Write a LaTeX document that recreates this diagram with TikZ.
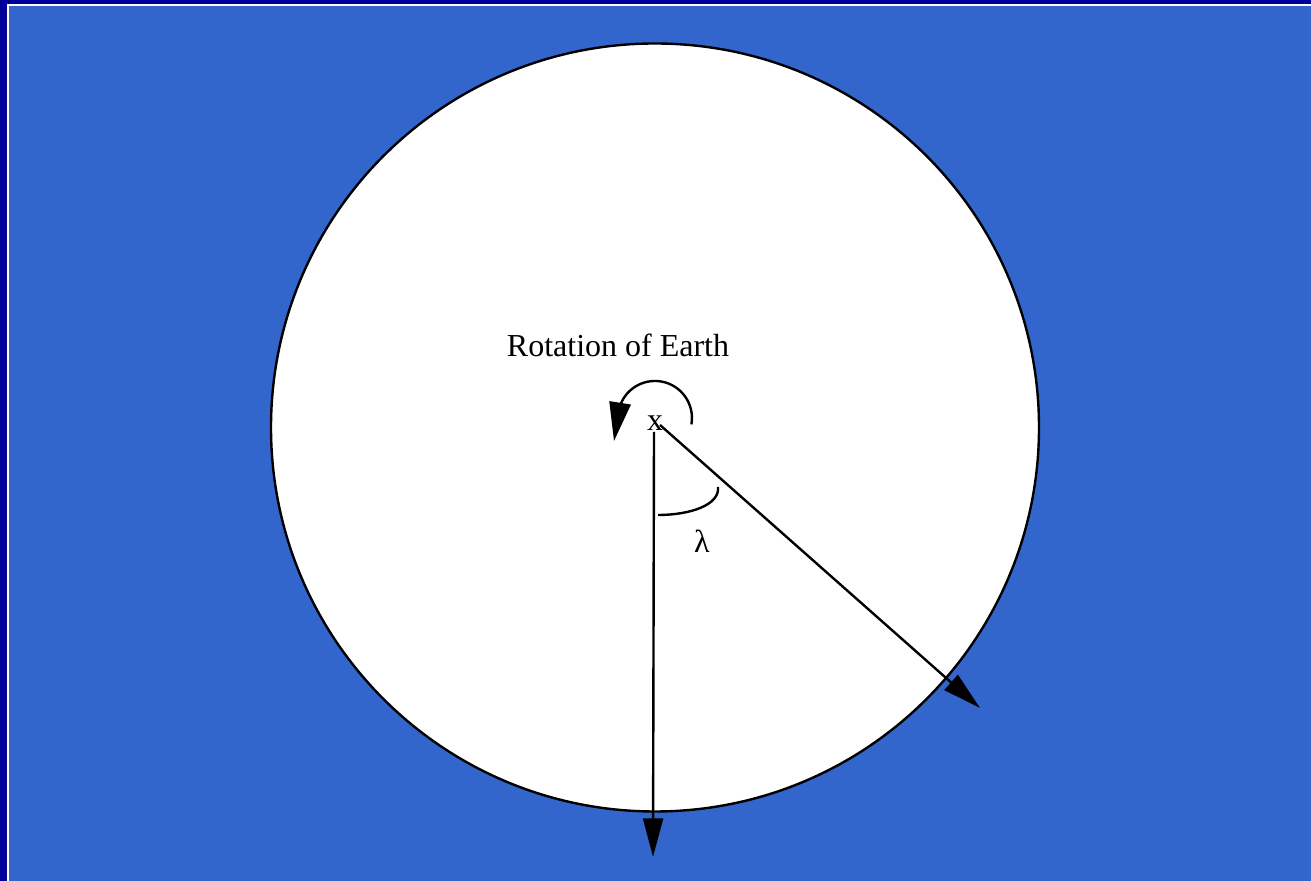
\documentclass[tikz,border=0pt]{standalone}
\usepackage{fontspec}
\setmainfont{Liberation Serif}
\usetikzlibrary{arrows.meta}
\definecolor{navy}{HTML}{000099}
\definecolor{bgblue}{HTML}{3366CC}
\begin{document}
\begin{tikzpicture}[x=0.75pt,y=0.75pt,
  lbl/.style={inner sep=0pt,font=\fontsize{24}{28}\selectfont},
  ln/.style={line width=1.8pt},
  arr/.style={ln,-{Triangle[length=29pt,width=15pt]}}]
\useasboundingbox (0,0) rectangle (1311,881);
\fill[navy] (0,0) rectangle (1311,881);
\fill[white] (7,0) rectangle (1311,877);
\fill[bgblue] (9,0) rectangle (1311,875);
\fill[white,draw=black,line width=1.8pt] (655,453.5) circle [radius=384];
\node[lbl] (title) at (618,536) {Rotation of Earth};
\node[lbl] (x) at (655,458) {x};
\coordinate (top) at (654,449);
\coordinate (south) at (653,24);
\coordinate (diag0) at (660,456);
\coordinate (diagend) at (980,173);
\draw[arr] (top) -- (south);
\draw[arr] (diag0) -- (diagend);
\coordinate (rotstart) at (691.4,456.6);
\coordinate (rottip) at (614,440);
\draw[ln,-{Triangle[length=29pt,width=16pt]}] (rotstart) arc[start angle=-10,end angle=165,radius=37] -- (rottip);
\coordinate (la) at (658,366);
\coordinate (lb) at (718,394);
\draw[ln] (la) .. controls (690,366) and (720,376) .. (lb);
\node[lbl] (lambda) at (702,340) {λ};
\end{tikzpicture}
\end{document}
